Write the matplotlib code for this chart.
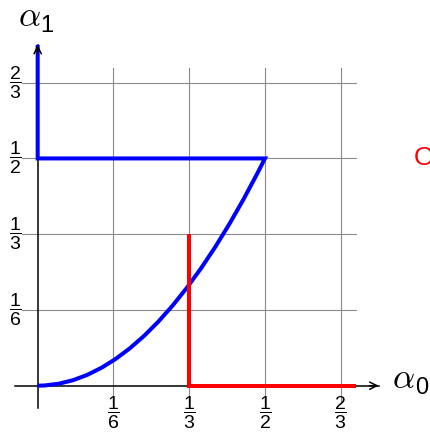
import matplotlib
matplotlib.use('Agg')
import matplotlib.pyplot as plt
from matplotlib.path import Path
from matplotlib.patches import PathPatch

plt.rcParams['font.family'] = ['Liberation Sans', 'DejaVu Sans']
plt.rcParams['mathtext.fontset'] = 'custom'
plt.rcParams['mathtext.rm'] = 'Liberation Sans'
plt.rcParams['mathtext.it'] = 'Liberation Sans:italic'
plt.rcParams['mathtext.bf'] = 'Liberation Sans:bold'

# data
tick_vals = [1/6, 1/3, 1/2, 2/3]
tick_num = ['1', '1', '1', '2']
tick_den = ['6', '3', '2', '3']

# blue: parabola (quadratic bezier control points), then back along 1/2 and up the axis
curve_x = [0, 1/4, 1/2]
curve_y = [0, 0, 1/2]
blue_x = [0, 0]
blue_y = [1/2, 0.75]

# red: vertical at 1/3 then along the alpha0 axis
red_x = [1/3, 1/3, 0.7]
red_y = [1/3, 0, 0]

grid_lo, grid_hi = -0.035, 0.7
axis_lo, axis_hi = -0.05, 0.75

fig = plt.figure(figsize=(4.31, 4.34), dpi=100)
ax = fig.add_axes([0, 0, 1, 1])
ax.set_xlim(-0.0829, 0.8653)
ax.set_ylim(-0.1063, 0.8486)
ax.axis('off')

# grid
for v in tick_vals:
    ax.plot([v, v], [grid_lo, grid_hi], color='#8a8a8a', lw=0.8, zorder=1)
    ax.plot([grid_lo, grid_hi], [v, v], color='#8a8a8a', lw=0.8, zorder=1)

# axes
ax.plot([axis_lo, axis_hi], [0, 0], color='k', lw=1.1, zorder=2)
ax.plot([0, 0], [axis_lo, axis_hi], color='k', lw=1.1, zorder=2)

# blue path
verts = [(curve_x[0], curve_y[0]), (curve_x[1], curve_y[1]), (curve_x[2], curve_y[2]),
         (blue_x[0], blue_y[0]), (blue_x[1], blue_y[1])]
codes = [Path.MOVETO, Path.CURVE3, Path.CURVE3, Path.LINETO, Path.LINETO]
ax.add_patch(PathPatch(Path(verts, codes), fill=False, edgecolor='#0000ff', lw=2.9,
                       joinstyle='miter', capstyle='butt', zorder=3))

ax.plot(red_x, red_y, color='#ff0000', lw=2.9, solid_joinstyle='miter',
        solid_capstyle='butt', zorder=3)

# arrow heads
arr = dict(arrowstyle='->', lw=1.1, color='k', mutation_scale=13, shrinkA=0, shrinkB=0)
ax.annotate('', xy=(axis_hi, 0), xytext=(axis_hi - 0.02, 0), arrowprops=arr, zorder=4)
ax.annotate('', xy=(0, axis_hi), xytext=(0, axis_hi - 0.02), arrowprops=arr, zorder=4)

# tick labels
for v, n, d in zip(tick_vals, tick_num, tick_den):
    lab = r'$\dfrac{\mathrm{%s}}{\mathrm{%s}}$' % (n, d)
    ax.text(v, -0.060, lab, fontsize=14, ha='center', va='center')
    ax.text(-0.050, v, lab, fontsize=14, ha='center', va='center')

# axis labels
ax.text(-0.0434, 0.791, r'$\alpha$', math_fontfamily='cm', fontsize=25,
        ha='left', va='baseline')
ax.text(0.005, 0.778, '1', fontsize=17, ha='left', va='baseline')
ax.text(0.780, -0.005, r'$\alpha$', math_fontfamily='cm', fontsize=25,
        ha='left', va='baseline')
ax.text(0.830, -0.018, '0', fontsize=17, ha='left', va='baseline')

ax.text(0.828, 0.5, 'O', color='#ff0000', fontsize=19, ha='left', va='center')

fig.savefig('out.png', dpi=100)
